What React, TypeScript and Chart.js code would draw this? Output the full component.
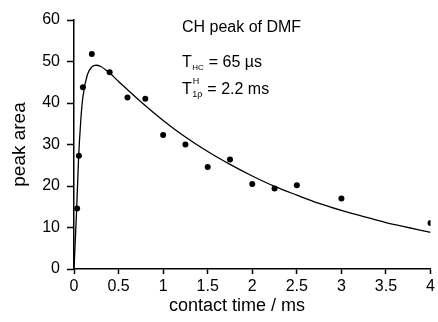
import React, { useEffect, useRef } from "react";
import { Chart, registerables } from "chart.js";

Chart.register(...registerables);

// measured points (contact time in ms, peak area)
const measuredTimes = [0.035, 0.055, 0.1, 0.2, 0.4, 0.6, 0.8, 1.0, 1.25, 1.5, 1.75, 2.0, 2.25, 2.5, 3.0, 4.0];
const measuredAreas = [14.6, 27.3, 43.8, 51.8, 47.4, 41.3, 41.0, 32.3, 30.0, 24.6, 26.4, 20.5, 19.4, 20.2, 17.0, 11.1];

// fitted curve
const fitTimes = [0, 0.03, 0.05, 0.075, 0.1, 0.15, 0.2, 0.25, 0.3, 0.4, 0.5, 0.75, 1.0, 1.25, 1.5, 1.75, 2.0, 2.25, 2.5, 2.75, 3.0, 3.25, 3.5, 3.75, 4.0];
const fitAreas = [0, 14.5, 26, 35.5, 41.5, 46.8, 48.7, 49.1, 48.8, 47.2, 45.2, 40.3, 35.8, 31.8, 28.3, 25.2, 22.4, 19.9, 17.8, 15.8, 14.1, 12.6, 11.2, 10.0, 8.8];

const xTicks = [0, 0.5, 1, 1.5, 2, 2.5, 3, 3.5, 4];
const yTicks = [0, 10, 20, 30, 40, 50, 60];

const FONT = "'Liberation Sans', Arial, Helvetica, sans-serif";

const annotationPlugin = {
  id: "annotations",
  afterDraw(chart: any) {
    const ctx = chart.ctx as CanvasRenderingContext2D;
    const area = chart.chartArea;
    ctx.save();
    ctx.fillStyle = "#000";
    ctx.textBaseline = "alphabetic";
    ctx.textAlign = "left";

    const x0 = 182;
    ctx.font = `16px ${FONT}`;
    ctx.fillText("CH peak of DMF", x0, 32);

    // T_HC = 65 µs
    let x = x0;
    ctx.font = `16px ${FONT}`;
    ctx.fillText("T", x, 67);
    x += ctx.measureText("T").width;
    ctx.font = `8px ${FONT}`;
    ctx.fillText("HC", x + 0.5, 70);
    x += ctx.measureText("HC").width + 1;
    ctx.font = `16px ${FONT}`;
    ctx.fillText(" = 65 \u00b5s", x, 67);

    // T^H_1rho = 2.2 ms
    x = x0;
    ctx.font = `16px ${FONT}`;
    ctx.fillText("T", x, 94);
    x += ctx.measureText("T").width;
    ctx.font = `9px ${FONT}`;
    ctx.fillText("H", x + 1, 84);
    ctx.fillText("1\u03c1", x + 0.5, 97);
    x += ctx.measureText("1\u03c1").width + 1;
    ctx.font = `16px ${FONT}`;
    ctx.fillText(" = 2.2 ms", x, 94);

    // x axis title
    ctx.font = `18px ${FONT}`;
    ctx.textAlign = "center";
    ctx.textBaseline = "middle";
    ctx.fillText("contact time / ms", area.left + 163, 306);
    ctx.restore();
  },
};

export default function App() {
  const canvasRef = useRef<HTMLCanvasElement | null>(null);

  useEffect(() => {
    if (!canvasRef.current) return;
    const chart = new Chart(canvasRef.current, {
      type: "scatter",
      data: {
        datasets: [
          {
            type: "line",
            data: fitTimes.map((t, i) => ({ x: t, y: fitAreas[i] })),
            borderColor: "#000",
            borderWidth: 1.3,
            pointRadius: 0,
            fill: false,
            cubicInterpolationMode: "monotone",
          } as any,
          {
            type: "scatter",
            data: measuredTimes.map((t, i) => ({ x: t, y: measuredAreas[i] })),
            backgroundColor: "#000",
            borderColor: "#000",
            pointRadius: 3,
            pointBorderWidth: 0,
          },
        ],
      },
      options: {
        animation: false,
        responsive: false,
        maintainAspectRatio: false,
        layout: { padding: { left: 0, right: 4, top: 20, bottom: 0 } },
        plugins: { legend: { display: false }, tooltip: { enabled: false } },
        scales: {
          x: {
            type: "linear",
            min: 0,
            max: 4,
            afterBuildTicks: (scale: any) => {
              scale.ticks = xTicks.map((v) => ({ value: v }));
            },
            afterFit: (scale: any) => {
              scale.height = 53;
            },
            ticks: {
              color: "#000",
              font: { family: FONT, size: 16 },
              padding: 3,
              maxRotation: 0,
              autoSkip: false,
              callback: (v: any) => String(v),
            },
            grid: {
              display: true,
              drawOnChartArea: false,
              drawTicks: true,
              tickLength: 5,
              tickColor: "#000",
              tickWidth: 1.5,
            },
            border: { display: true, color: "#000", width: 1.5 },
          },
          y: {
            type: "linear",
            min: 0,
            max: 60,
            afterBuildTicks: (scale: any) => {
              scale.ticks = yTicks.map((v) => ({ value: v }));
            },
            afterFit: (scale: any) => {
              scale.width = 74;
            },
            ticks: {
              color: "#000",
              font: { family: FONT, size: 16 },
              padding: 7,
              autoSkip: false,
              callback: (v: any) => String(v),
            },
            grid: {
              display: true,
              drawOnChartArea: false,
              drawTicks: true,
              tickLength: 7,
              tickColor: "#000",
              tickWidth: 1.5,
            },
            border: { display: true, color: "#000", width: 1.5 },
            title: {
              display: true,
              text: "peak area",
              color: "#000",
              font: { family: FONT, size: 19 },
              padding: { top: 8, bottom: 0 },
            },
          },
        },
      },
      plugins: [annotationPlugin],
    });
    return () => chart.destroy();
  }, []);

  return (
    <div style={{ position: "fixed", left: 0, top: 0, width: 438, height: 322, background: "#fff" }}>
      <canvas ref={canvasRef} width={438} height={322} style={{ width: 438, height: 322 }} />
    </div>
  );
}
